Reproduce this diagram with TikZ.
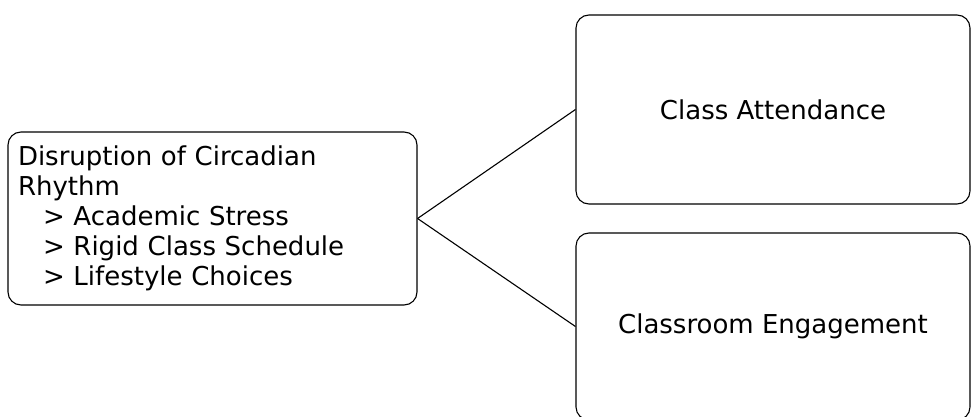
\documentclass[tikz,border=0pt]{standalone}
\usepackage{fontspec}
\setmainfont{DejaVu Sans}
\usetikzlibrary{positioning}

\begin{document}
\begin{tikzpicture}[x=1pt,y=1pt,
  box/.style={draw=black,line width=1.1pt,rounded corners=13pt,inner xsep=10pt,font=\fontsize{26}{30}\selectfont,text=black},
  link/.style={line width=1.1pt,draw=black}]
  \useasboundingbox (0,0) rectangle (971,-417);
  \node[box,minimum width=409pt,minimum height=173pt,text width=389pt,align=left] (cause) at (212.5,-218.5)
    {Disruption of Circadian Rhythm\\
     \hspace*{25pt}> Academic Stress\\
     \hspace*{25pt}> Rigid Class Schedule\\
     \hspace*{25pt}> Lifestyle Choices};
  \node[box,minimum width=394pt,minimum height=189pt] (attend) at (773,-109.5) {Class Attendance};
  \node[box,minimum width=394pt,minimum height=187pt] (engage) at (773,-326.5) {Classroom Engagement};
  \draw[link] (cause.east)--(attend.west);
  \draw[link] (cause.east)--(engage.west);
\end{tikzpicture}
\end{document}
